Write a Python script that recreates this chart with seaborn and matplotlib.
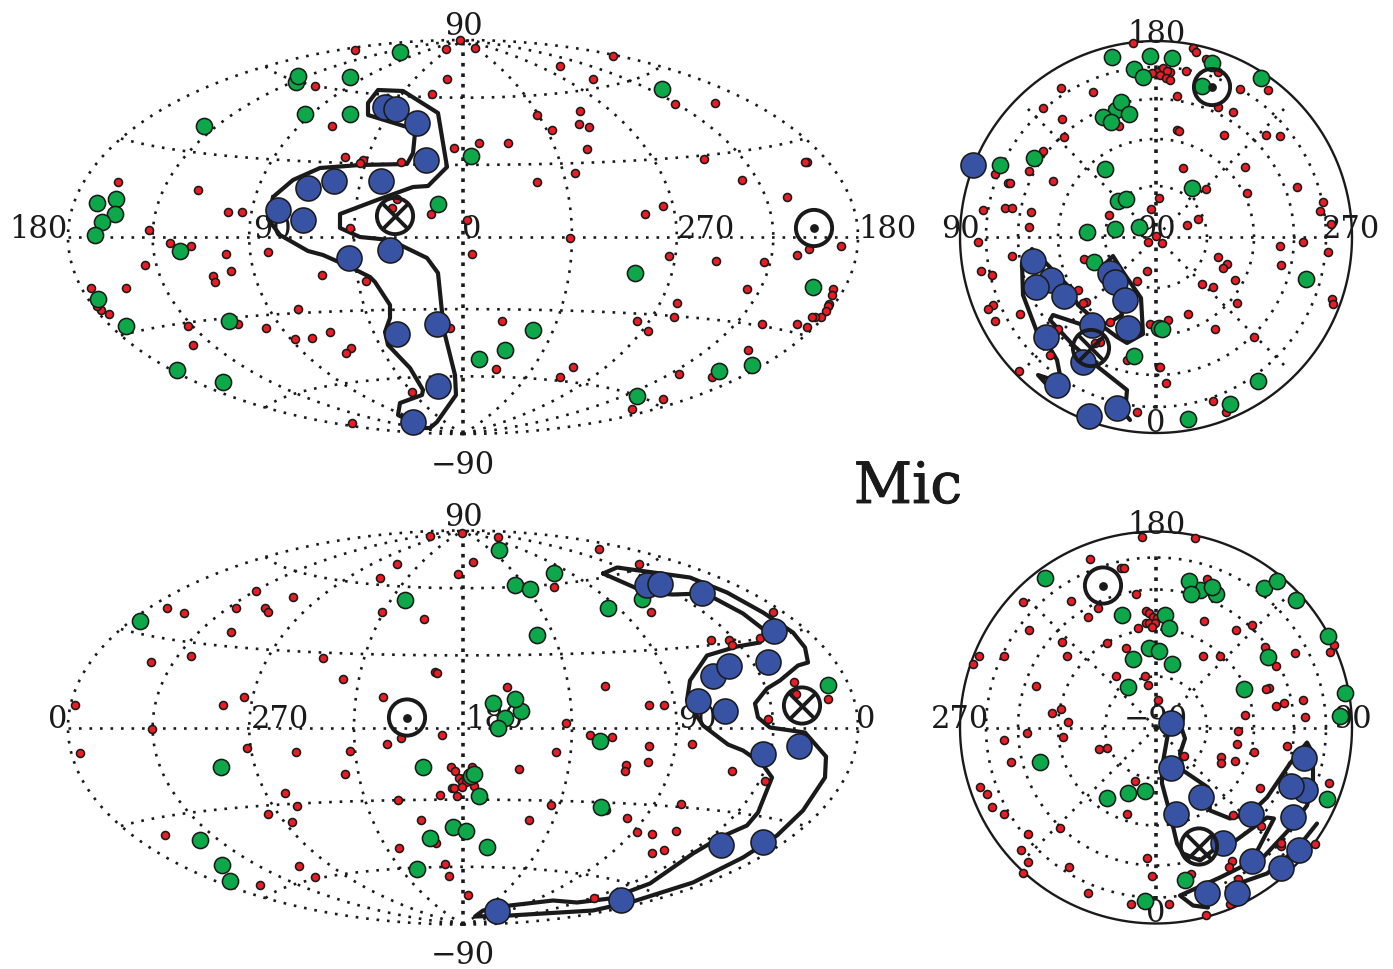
import numpy as np
import matplotlib
matplotlib.use("Agg")
import matplotlib.pyplot as plt
import matplotlib.patheffects as pe
import seaborn as sns

# Marks are given in map units of each panel: offsets from the panel centre
# (Hammer map half-width 395 / half-height 197; polar disc radius 196).

tl_red = [(-108,187),(-17,188),(-3,197),(-16,158),(-148,151),(-31,143),(-131,111),(-9,89),(-118,80),(-100,77),(-103,74),(-62,75),(-345,55),(-265,47),(-235,25),(-221,25),(-314,7),(-66,38),(-71,29),(-32,23),(-113,9),(4,17),
 (-293,-6),(-272,-9),(-195,-15),(-237,-17),(-318,-28),(-232,-34),(-250,-39),(-248,-45),(-141,-38),(-97,-44),(-372,-51),(-337,-51),(-362,-73),(-366,-69),(-354,-77),(-165,-72),(-225,-87),(-275,-89),(-197,-91),(-270,-108),(-168,-102),(-151,-101),(-133,-95),(-112,-111),(-117,-116),(-13,-91),(-51,-155),(-111,-186),
 (12,189),(150,181),(97,171),(130,158),(212,133),(252,134),(74,122),(117,126),(116,113),(126,110),(89,107),(16,94),(45,94),(124,88),(241,78),(344,75),(342,75),(112,64),(74,55),(279,57),(324,40),(200,31),(182,23),(107,-1),(9,-17),(206,-19),(253,-24),(301,-25),(346,-12),(334,-18),(378,-9),(284,-52),(370,-52),(369,-58),(366,-67),(365,-69),(363,-74),(358,-80),(352,-80),(349,-80),(344,-90),(334,-87),(299,-87),(214,-66),(211,-80),(174,-84),(185,-94),(39,-84),(285,-113),(216,-137),(249,-140),(110,-130),(97,-140),(33,-132),(200,-162),(169,-172)]
tl_green = [(-63,185),(-167,155),(-165,161),(-113,160),(-158,123),(-113,123),(-259,111),(-366,34),(-347,38),(-348,23),(-361,15),(-368,2),(-25,33),(8,81),
 (-283,-14),(-365,-62),(-337,-89),(-234,-84),(-286,-133),(-240,-145),
 (199,148),(172,-36),(350,-50),(70,-93),(42,-113),(16,-122),(289,-128),(256,-134),(174,-159)]
tl_blue = [(-78,130),(-67,128),(-46,114),(-37,77),(-129,56),(-155,49),(-82,56),(-185,27),(-160,17),(-114,-21),(-73,-13),(-26,-87),(-66,-97),(-25,-149),(-50,-185)]
tl_contour = [(-190,40),(-170,57),(-143,69),(-103,72),(-56,73),(-50,84),(-48,104),(-56,110),(-95,122),(-95,134),(-85,147),(-60,146),(-25,124),(-16,70),(-35,51),(-50,50),(-86,37),(-123,23),(-123,9),(-103,0),(-73,-3),(-36,-21),(-25,-36),(-21,-75),(-18,-98),(-8,-138),(-7,-158),(-26,-185),(-33,-191),(-40,-191),(-65,-178),(-63,-166),(-41,-158),(-40,-153),(-53,-131),(-75,-108),(-78,-95),(-73,-81),(-73,-68),(-88,-45),(-93,-40),(-113,-30),(-140,-18),(-155,-14),(-183,2),(-195,18),(-190,40)]
tl_cross = [(-68,21)]
tl_sun = [(351,9)]
tl_labels = [("90",0,202),("180",-425,-1),("90",-191,-1),("0",9,-1),("270",243,-1),("180",424,-1),("\u221290",0,-237)]

tr_red = [(-23,194),(1,165),(-4,164),(-95,149),(-63,145),(-113,129),(-94,118),(-37,111),(-92,100),(-113,86),(-127,66),(-161,63),(-148,54),(-146,54),(-103,56),(-173,27),(-151,29),(-144,29),(-125,25),(-127,10),(-47,22),(-5,28),(3,39),(0,1),
 (-178,-5),(-144,-19),(-175,-34),(-164,-38),(-163,-68),(-168,-72),(-161,-84),(-136,-77),(-137,-134),(-72,-22),(-78,-53),(-70,-65),(-73,-66),(-9,-34),(-19,-44),(-8,-5),(-46,-85),(-6,-87),(-98,-92),(-56,-105),(-61,-106),(-106,-118),(-29,-123),(-19,-175),(3,-130),
 (37,189),(40,185),(50,178),(30,166),(14,165),(7,169),(11,166),(4,162),(10,159),(14,157),(62,165),(84,148),(112,147),(21,141),(62,130),(77,125),(21,107),(23,106),(68,102),(110,102),(124,101),(27,69),(89,70),(50,48),(141,50),(91,44),(167,35),(164,26),(42,18),(31,12),(175,13),(6,-6),(147,-5),(124,-9),(172,-15),(62,-20),(71,-27),(67,-31),(125,-28),(79,-43),(46,-47),(57,-50),(176,-62),(177,-67),(81,-66),(32,-77),(12,-83),(59,-92),(98,-100),(4,-130),(10,-146),(57,-164),(70,-175)]
tr_green = [(-44,180),(-6,181),(-22,168),(-13,160),(-40,127),(-35,135),(-27,123),(-53,120),(-45,115),(-156,72),(-122,79),(-51,68),(-38,36),(-30,38),(-69,5),(-41,8),(-17,10),
 (-62,-25),(-22,-119),(3,-91),
 (16,179),(56,174),(46,151),(105,159),(36,49),(150,-42),(6,-92),(102,-144),(74,-167),(32,-182)]
tr_blue = [(-183,72),(-105,-43),(-123,-24),(-120,-50),(-92,-59),(-46,-36),(-41,-45),(-31,-63),(-64,-88),(-28,-91),(-110,-100),(-73,-125),(-99,-148),(-39,-171),(-67,-179)]
tr_contour = [(-99,-155),(-109,-148),(-118,-138),(-109,-141),(-99,-148),(-96,-138),(-99,-123),(-106,-111),(-119,-95),(-133,-58),(-134,-26),(-124,-12),(-111,-25),(-89,-48),(-78,-68),(-59,-85),(-39,-100),(-29,-106),(-13,-97),(-15,-61),(-33,-35),(-43,-19),(-54,-30),(-39,-58),(-34,-78),(-46,-85),(-64,-91),(-103,-78),(-106,-83),(-83,-108),(-58,-130),(-29,-153),(-30,-165),(-36,-171),(-26,-183)]
tr_cross = [(-65,-111)]
tr_sun = [(56,150)]
tr_labels = [("180",0,194),("90",-196,-1),("90",0,-1),("270",195,-1),("0",0,-195)]

bl_red = [(-1,195),(-33,192),(-66,164),(-5,154),(-83,150),(-207,137),(-170,131),(-296,120),(-227,120),(-279,115),(-198,120),(-195,116),(-81,116),(-39,109),(-232,96),(-272,72),(-140,70),(-312,66),(-28,56),(-26,55),(-120,49),(-80,31),(-388,23),(-219,31),(-240,23),(-311,-1),
 (-62,-10),(-76,-16),(-21,-7),(-383,-25),(-216,-20),(-167,-24),(-113,-23),(-118,-46),(-12,-39),(-8,-43),(-4,-50),(2,-50),(-1,-54),(3,-54),(-11,-60),(-9,-60),(-1,-59),(-23,-67),(-6,-68),(-178,-65),(-166,-78),(-65,-72),(-195,-86),(-171,-94),(-42,-92),(-298,-107),(-27,-115),(-64,-120),(-164,-138),(-18,-136),(-14,-148),(-148,-149),(-203,-157),(5,-167),
 (35,191),(136,179),(10,166),(176,164),(91,141),(188,116),(310,116),(248,88),(266,88),(269,83),(297,90),(44,41),(142,42),(331,46),(186,23),(201,23),(333,34),(365,29),(305,9),(103,5),(127,-7),(149,-9),(229,-16),(186,-18),(93,-24),(185,-34),(163,-37),(162,-43),(56,-41),(269,-43),(302,-53),(9,-39),(11,-58),(88,-77),(218,-76),(164,-90),(66,-92),(174,-104),(189,-106),(213,-103),(189,-125),(201,-122),(143,-82),(131,-170)]
bl_green = [(-323,107),(-58,128),(-242,-39),(-40,-39),(8,-48),(-10,-99),(3,-103),(-33,-110),(-263,-112),(-241,-137),(-233,-153),(-46,-141),
 (36,178),(91,155),(52,143),(67,139),(145,120),(179,129),(74,93),(365,43),(30,25),(58,17),(52,29),(42,10),(35,0),(137,-13),(11,-46),(16,-68),(138,-79),(24,-119)]
bl_blue = [(184,143),(197,144),(239,135),(311,97),(305,66),(250,52),(266,62),(235,27),(262,17),(336,-18),(300,-26),(258,-117),(300,-114),(158,-172),(34,-183)]
bl_contour = [(140,154),(154,160),(227,150),(264,135),(300,115),(330,95),(342,80),(345,65),(335,62),(317,47),(304,39),(292,24),(295,10),(307,0),(342,-5),(363,-29),(362,-50),(340,-83),(314,-108),(280,-130),(230,-155),(170,-174),(130,-183),(47,-188),(12,-189),(20,-183),(47,-178),(90,-173),(114,-175),(147,-171),(187,-156),(230,-126),(257,-110),(284,-98),(295,-85),(309,-50),(299,-36),(280,-23),(265,-17),(240,2),(224,27),(227,47),(244,72),(274,81),(297,85),(302,97),(280,114),(250,130),(240,134),(210,133),(194,134),(174,139),(140,154)]
bl_cross = [(339,22)]
bl_sun = [(-56,10)]
bl_labels = [("90",0,201),("0",-405,-1),("270",-183,-1),("180",31,-1),("90",234,-1),("0",403,-1),("\u221290",0,-237)]

br_red = [(-14,191),(-66,169),(-35,160),(-32,160),(-20,134),(-85,127),(-133,126),(-58,120),(-68,111),(-10,117),(-7,115),(-3,111),(1,110),(-10,105),(-7,105),(-1,105),(-4,101),(-18,100),(-127,98),(-94,86),(-49,85),(-30,80),(-177,72),(-152,72),(-89,72),(-183,64),(-40,52),(-11,52),(-8,43),(-120,42),(2,28),(-95,19),(-104,15),(-88,6),(-129,-5),(-93,-9),(-152,-12),(-49,-20),(-57,-21),(-145,-34),(-21,-53),(-176,-59),(-169,-66),(-164,-79),(-152,-86),(-29,-86),(-96,-100),(-128,-106),(-135,-122),(-128,-134),(-87,-139),(-9,-130),(-4,-148),(-133,-145),(-68,-165),(-25,-176),
 (39,190),(51,149),(48,107),(96,103),(80,98),(109,81),(139,75),(178,83),(174,76),(47,72),(64,72),(120,62),(113,40),(110,39),(147,28),(128,25),(120,22),(89,13),(149,11),(82,-3),(81,-16),(98,-24),(131,-18),(65,-29),(65,-35),(79,-33),(28,-28),(173,-55),(104,-60),(77,-87),(105,-98),(159,-116),(125,-118),(125,-115),(76,-133),(73,-139),(82,-151),(35,-146),(13,-176),(50,-187),(74,-176)]
br_green = [(-111,150),(-34,113),(-7,80),(-23,69),(-28,41),(-116,-34),(-49,-70),(-28,-65),(-11,-63),(-11,-173),
 (44,138),(33,147),(35,134),(60,134),(56,141),(108,140),(121,147),(140,128),(172,92),(9,113),(13,100),(3,77),(16,64),(112,71),(88,39),(189,35),(184,12),(171,-71),(29,-152)]
br_blue = [(15,5),(15,-40),(45,-69),(20,-86),(148,-30),(149,-62),(135,-58),(95,-86),(137,-89),(67,-115),(143,-122),(96,-133),(125,-140),(51,-165),(81,-165)]
br_contour = [(52,-180),(37,-178),(24,-168),(64,-150),(84,-140),(107,-130),(134,-101),(151,-78),(157,-56),(157,-26),(151,-15),(134,-36),(111,-70),(94,-86),(74,-91),(54,-83),(52,-60),(27,-43),(24,-26),(29,-11),(24,4),(12,-6),(6,-40),(6,-56),(14,-86),(21,-116),(27,-126),(44,-133),(67,-115),(77,-115),(111,-90),(118,-91),(104,-118),(96,-133)]
br_contour2 = [(161,-96),(141,-121),(111,-146),(71,-160),(81,-166)]
br_cross = [(43,-119)]
br_sun = [(-53,142)]
br_labels = [("180",0,194),("270",-196,-1),("\u221290",0,-1),("90",196,-1),("0",0,-195)]

meridians = [-180,-135,-90,-45,0,45,90,135,180]
parallels = [-60,-30,0,30,60]
polar_rings = [51,98,138,170]
polar_spokes = [0,45,90,135,180,225,270,315]

RED, GREEN, BLUE = "#ED1C24", "#0DA84A", "#3953A4"
W, H = 1393, 969
PERIOD_PT = 7.56
SERIF = "DejaVu Serif"

sns.set_theme(style="white")
plt.rcParams["font.family"] = [SERIF, "DejaVu Sans"]
fig = plt.figure(figsize=(W/100, H/100), dpi=100, facecolor="white")


def make_axes(cx, cy, hw, hh):
    ax = fig.add_axes([(cx-hw)/W, 1-(cy+hh)/H, 2*hw/W, 2*hh/H])
    ax.set_xlim(-hw, hw)
    ax.set_ylim(-hh, hh)
    ax.set_axis_off()
    return ax


def hammer(lon, lat, hw=395, hh=197):
    lam, phi = np.radians(lon), np.radians(lat)
    d = np.sqrt(1 + np.cos(phi)*np.cos(lam/2))
    return hw*np.cos(phi)*np.sin(lam/2)/d, hh*np.sin(phi)/d


def grid_line(ax, x, y, lw=1.9):
    ax.plot(x, y, color="k", lw=lw, ls=(0, (1, PERIOD_PT/lw - 1)), zorder=1, clip_on=False)


def draw_marks(ax, red, green, blue, contours, cross, sun, labels):
    for s, x, y in labels:
        ax.text(x, y, s, ha="center", va="baseline", fontsize=22, color="k", zorder=2, clip_on=False)
    for c in contours:
        sns.lineplot(x=[p[0] for p in c], y=[p[1] for p in c], sort=False, estimator=None, color="k",
                     lw=3.0, ax=ax, zorder=3, legend=False, clip_on=False, solid_joinstyle="round")
    groups = [(red, RED, 33, 4), (green, GREEN, 135, 5), (blue, BLUE, 325, 6)]
    for pts, col, size, z in groups:
        sns.scatterplot(x=[p[0] for p in pts], y=[p[1] for p in pts], color=col, s=size, edgecolor="k",
                        linewidth=1.15, ax=ax, zorder=z, legend=False, clip_on=False)
    cx, cy = [p[0] for p in cross], [p[1] for p in cross]
    sx, sy = [p[0] for p in sun], [p[1] for p in sun]
    for x, y in ((cx, cy), (sx, sy)):
        sns.scatterplot(x=x, y=y, color="none", edgecolor="k", s=680, linewidth=2.8, ax=ax, zorder=7,
                        legend=False, clip_on=False)
    sns.scatterplot(x=cx, y=cy, color="k", marker="x", s=340, linewidth=2.8, ax=ax, zorder=7, legend=False, clip_on=False)
    sns.scatterplot(x=sx, y=sy, color="k", s=40, linewidth=0, ax=ax, zorder=7, legend=False, clip_on=False)
    ax.set_xlabel("")
    ax.set_ylabel("")


def hammer_panel(cy, *marks):
    ax = make_axes(463, cy, 395, 197)
    for lon in meridians:
        x, y = hammer(lon, np.linspace(-90, 90, 181))
        grid_line(ax, x, y, lw=2.6 if lon == 0 else 1.9)
    for lat in parallels:
        x, y = hammer(np.linspace(-180, 180, 361), lat)
        grid_line(ax, x, y)
    draw_marks(ax, *marks)


def polar_panel(cy, *marks):
    ax = make_axes(1156, cy, 196, 196)
    t = np.linspace(0, 2*np.pi, 361)
    for r in polar_rings:
        grid_line(ax, r*np.cos(t), r*np.sin(t))
    for a in polar_spokes:
        rmax = 186 if a % 90 else 176
        rr = np.array([0, rmax])
        grid_line(ax, rr*np.cos(np.radians(a)), rr*np.sin(np.radians(a)), lw=2.6 if a in (90, 270) else 1.9)
    ax.plot(196*np.cos(t), 196*np.sin(t), color="k", lw=1.7, zorder=1, clip_on=False)
    draw_marks(ax, *marks)


hammer_panel(237, tl_red, tl_green, tl_blue, [tl_contour], tl_cross, tl_sun, tl_labels)
polar_panel(237, tr_red, tr_green, tr_blue, [tr_contour], tr_cross, tr_sun, tr_labels)
hammer_panel(727.5, bl_red, bl_green, bl_blue, [bl_contour], bl_cross, bl_sun, bl_labels)
polar_panel(727.5, br_red, br_green, br_blue, [br_contour, br_contour2], br_cross, br_sun, br_labels)

fig.text(908/W, 1-503/H, "Mic", ha="center", va="baseline", fontsize=41, color="k", family=SERIF,
         path_effects=[pe.withStroke(linewidth=0.6, foreground="k")])

fig.savefig("out.png", dpi=100, facecolor="white")
